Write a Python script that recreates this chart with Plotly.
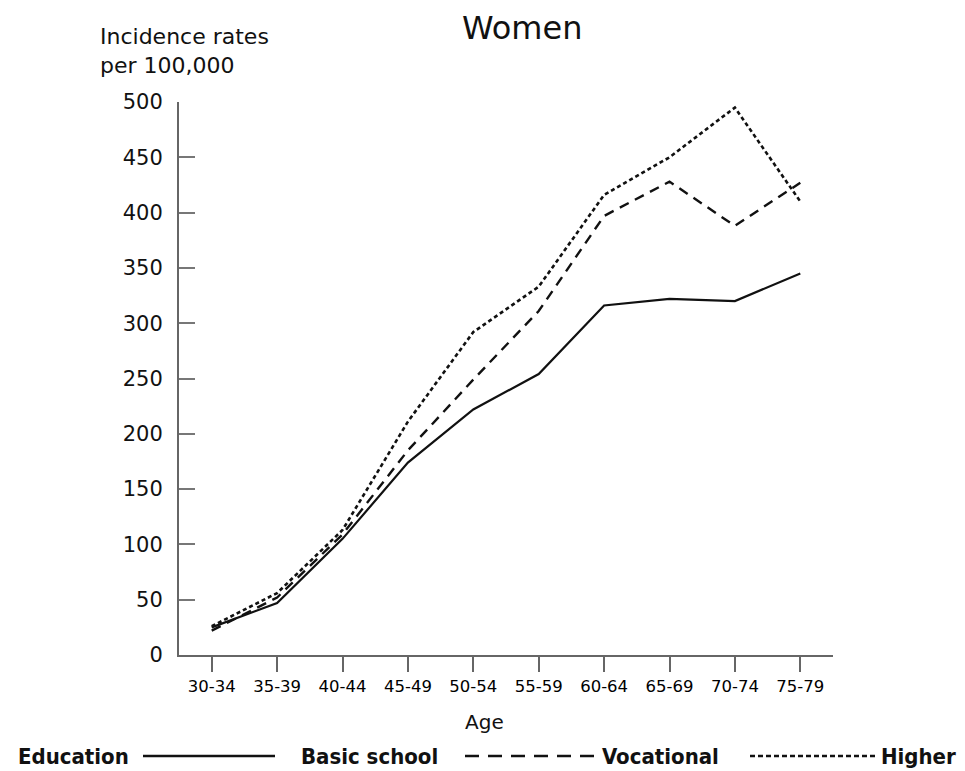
import plotly.graph_objects as go

age_groups = ["30-34", "35-39", "40-44", "45-49", "50-54", "55-59", "60-64", "65-69", "70-74", "75-79"]
basic_school = [25, 47, 105, 174, 222, 254, 316, 322, 320, 345]
vocational = [22, 52, 109, 185, 249, 311, 397, 428, 388, 427]
higher = [26, 56, 113, 211, 292, 333, 416, 450, 495, 410]
series_names = ["Basic school", "Vocational", "Higher"]
y_ticks = [0, 50, 100, 150, 200, 250, 300, 350, 400, 450, 500]

W, H = 965, 771
L, R, T, B = 179, 833, 102, 655


def px(x):
    return (x - L) / (R - L)


def py(y):
    return (B - y) / (B - T)


dashes = ["solid", "10px,7px", "4px,3px"]
widths = [2.2, 2.4, 2.6]
fig = go.Figure()
for name, vals, d, w in zip(series_names, [basic_school, vocational, higher], dashes, widths):
    fig.add_trace(go.Scatter(x=age_groups, y=vals, mode="lines", name=name,
                             line=dict(color="#111111", width=w, dash=d),
                             showlegend=False))

fig.update_layout(
    width=W, height=H,
    margin=dict(l=L, r=W - R, t=T, b=H - B),
    paper_bgcolor="white", plot_bgcolor="white",
    font=dict(family="DejaVu Sans", color="#111111"),
    xaxis=dict(type="category", range=[-0.5, 9.5], showline=True, linecolor="#666666",
               linewidth=2, ticks="outside", ticklen=15, tickwidth=2, tickcolor="#666666",
               tickfont=dict(size=16.5, family="DejaVu Sans", color="#000000"),
               showgrid=False, zeroline=False),
    yaxis=dict(range=[0, 500], tickvals=y_ticks, showline=True, linecolor="#666666",
               linewidth=2, ticks="inside", ticklen=16, tickwidth=2, tickcolor="#777777",
               tickfont=dict(size=21, family="DejaVu Sans", color="#111111"),
               ticklabelstandoff=10, showgrid=False, zeroline=False),
)

# titles
fig.add_annotation(text="Women", xref="paper", yref="paper", x=px(522), y=py(28),
                   xanchor="center", yanchor="middle", showarrow=False,
                   font=dict(size=32, family="DejaVu Sans", color="#111111"))
fig.add_annotation(text="Incidence rates<br>per 100,000", xref="paper", yref="paper",
                   x=px(98), y=py(22), xanchor="left", yanchor="top", align="left",
                   showarrow=False, font=dict(size=22, family="DejaVu Sans", color="#111111"))
fig.add_annotation(text="Age", xref="paper", yref="paper", x=px(484), y=py(722),
                   xanchor="center", yanchor="middle", showarrow=False,
                   font=dict(size=20, family="DejaVu Sans", color="#111111"))

# legend (drawn manually)
leg_y = py(756)
legend_font = dict(size=22, family="DejaVu Sans Condensed", color="#111111")
fig.add_annotation(text="<b>Education</b>", xref="paper", yref="paper", x=px(73), y=leg_y,
                   xanchor="center", yanchor="middle", showarrow=False, font=legend_font)
samples = [(143, 275), (465, 600), (750, 878)]
text_centers = [369, 660, 918]
leg_dashes = ["solid", "14px,9px", "5px,3px"]
for name, (x0, x1), tc, d in zip(series_names, samples, text_centers, leg_dashes):
    fig.add_shape(type="line", xref="paper", yref="paper", x0=px(x0), x1=px(x1),
                  y0=leg_y, y1=leg_y, line=dict(color="#111111", width=2.6, dash=d))
    fig.add_annotation(text="<b>" + name + "</b>", xref="paper", yref="paper", x=px(tc), y=leg_y,
                       xanchor="center", yanchor="middle", showarrow=False, font=legend_font)

fig.write_html("out.html", config={"displayModeBar": False},
               post_script="document.body.style.margin='0';document.body.style.overflow='hidden';")
